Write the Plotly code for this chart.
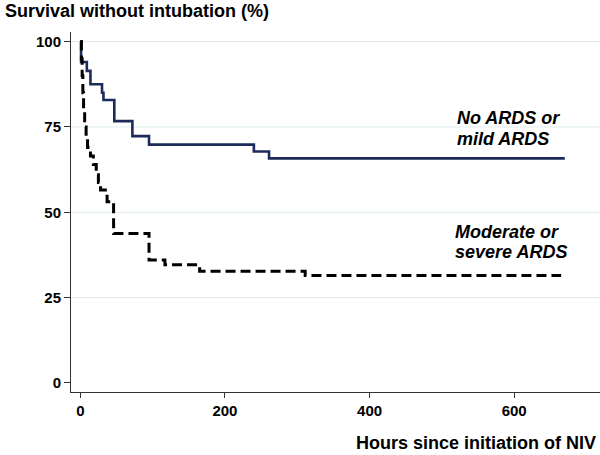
import plotly.graph_objects as go

# Kaplan-Meier style step data (hours, % survival without intubation)
mild_hours = [0, 1, 9, 14, 30, 32, 47, 72, 95, 240, 261, 670]
mild_surv = [100, 94, 91.4, 87.5, 85, 82.9, 76.7, 72.3, 69.8, 67.8, 65.8, 65.8]

severe_hours = [0, 1.5, 2.5, 3.5, 4.5, 6, 8, 10, 14, 18, 22, 25, 28, 37, 46, 95, 117, 165, 311, 665]
severe_surv = [100, 95, 90, 85, 80, 75, 72, 69, 66.5, 64, 61, 58.7, 56.5, 53.1, 43.8, 36, 34.6, 32.7, 31.5, 31.5]

x_ticks = [0, 200, 400, 600]
y_ticks = [0, 25, 50, 75, 100]
grid_vals = [25, 50, 75, 100]

FONT = "Liberation Sans, Arial, sans-serif"

fig = go.Figure()
fig.add_trace(go.Scatter(x=mild_hours, y=mild_surv, mode="lines", line_shape="hv",
                         line=dict(color="#1c2b5a", width=2.6), showlegend=False))
fig.add_trace(go.Scatter(x=severe_hours, y=severe_surv, mode="lines", line_shape="hv",
                         line=dict(color="#000000", width=3, dash="10px,5px"), showlegend=False))

shapes = [dict(type="line", xref="paper", x0=0, x1=1, yref="y", y0=g, y1=g,
               line=dict(color="#e0ecee", width=1), layer="below") for g in grid_vals]

annotations = [
    dict(text="<b>Survival without intubation (%)</b>", xref="paper", yref="paper",
         x=-0.1285, y=1.058, xanchor="left", yanchor="middle", showarrow=False,
         font=dict(size=18, color="#000", family=FONT)),
    dict(text="<b>Hours since initiation of NIV</b>", xref="paper", yref="paper",
         x=0.996, y=-0.143, xanchor="right", yanchor="middle", showarrow=False,
         font=dict(size=18, color="#000", family=FONT)),
    dict(text="<b><i>No ARDS or</i></b>", x=518, y=77.7, xanchor="left", yanchor="middle",
         showarrow=False, font=dict(size=18, color="#000", family=FONT)),
    dict(text="<b><i>mild ARDS</i></b>", x=518, y=71.6, xanchor="left", yanchor="middle",
         showarrow=False, font=dict(size=18, color="#000", family=FONT)),
    dict(text="<b><i>Moderate or</i></b>", x=515.5, y=44.3, xanchor="left", yanchor="middle",
         showarrow=False, font=dict(size=18, color="#000", family=FONT)),
    dict(text="<b><i>severe ARDS</i></b>", x=515.5, y=38.4, xanchor="left", yanchor="middle",
         showarrow=False, font=dict(size=18, color="#000", family=FONT)),
]

fig.update_layout(
    width=600, height=455,
    margin=dict(l=71, r=0, t=32, b=63),
    paper_bgcolor="white", plot_bgcolor="white",
    font=dict(family=FONT, color="#000"),
    shapes=shapes, annotations=annotations,
    xaxis=dict(range=[-12.9, 718.7], tickvals=x_ticks, showgrid=False, zeroline=False,
               showline=True, linecolor="#333", linewidth=1,
               ticks="outside", ticklen=5, tickcolor="#333",
               tickfont=dict(size=15, family=FONT, weight="bold", color="#000")),
    yaxis=dict(range=[-2.64, 102.8], tickvals=y_ticks, showgrid=False, zeroline=False,
               showline=True, linecolor="#333", linewidth=1,
               ticks="outside", ticklen=6, tickcolor="#333",
               tickfont=dict(size=15, family=FONT, weight="bold", color="#000")),
)

# remove the default 8px page margin so the figure sits at the window's top-left corner
fig.write_html("out.html", config={"displayModeBar": False},
               post_script="document.body.style.margin='0';")
